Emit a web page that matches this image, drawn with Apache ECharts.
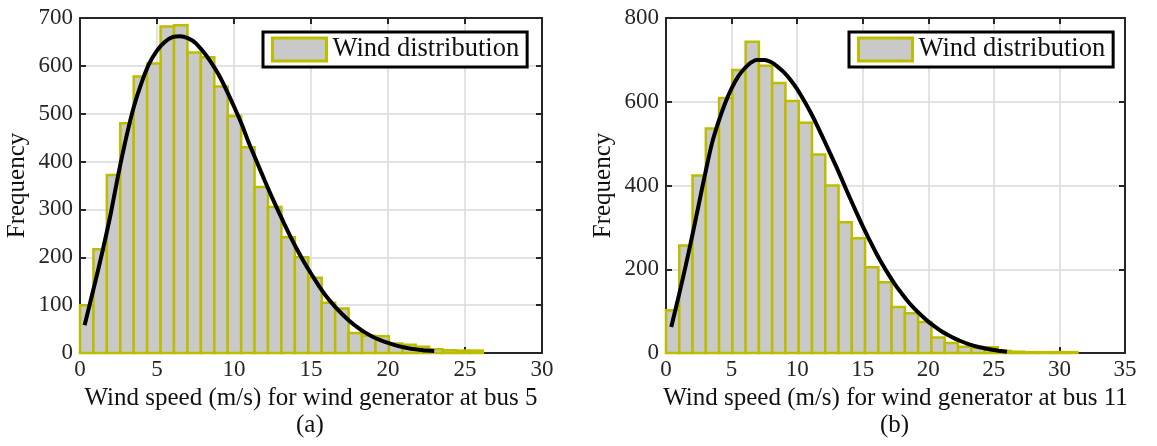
<!DOCTYPE html>
<html>
<head>
<meta charset="utf-8">
<script src="https://cdn.jsdelivr.net/npm/echarts@6/dist/echarts.min.js"></script>
<style>
  html, body { margin: 0; background: #fff; }
  #chart { width: 1157px; height: 446px; }
</style>
</head>
<body>
<div id="chart"></div>
<script>
// histogram counts, bus 5 (30 bins) and bus 11 (31 bins)
const bus5Start = 0;
const bus5Width = 0.872;
const bus5Counts = [100, 217, 372, 480, 578, 605, 682, 685, 628, 618, 557, 495, 430, 347, 305,
  242, 200, 157, 105, 93, 42, 36, 35, 20, 17, 13, 8, 6, 5, 5];

const bus11Start = 0;
const bus11Width = 1.012;
const bus11Counts = [102, 257, 424, 536, 609, 676, 743, 686, 645, 602, 550, 474, 400, 312, 274,
  205, 169, 110, 95, 74, 37, 24, 15, 12, 14, 5, 3, 2, 2, 2, 2];

// fitted distribution curves
const bus5FitX = [0.3, 1, 1.5, 2, 2.5, 3, 3.5, 4, 4.5, 5, 5.5, 6, 6.5, 7, 7.5, 8, 8.5, 9, 9.5, 10,
  10.5, 11, 11.5, 12, 12.5, 13, 13.5, 14, 14.5, 15, 15.5, 16, 16.5, 17, 17.5, 18, 18.5, 19, 19.5,
  20, 20.5, 21, 21.5, 22, 22.5, 23];
const bus5FitY = [58, 150, 218, 292, 375, 450, 515, 565, 605, 632, 650, 660, 662, 658, 648, 630,
  608, 582, 550, 515, 478, 436, 398, 360, 323, 288, 254, 222, 193, 166, 141, 118, 99, 82, 67, 54,
  43, 34, 27, 21, 16, 12, 9, 7, 5, 4];

const bus11FitX = [0.4, 1, 1.5, 2, 2.5, 3, 3.5, 4, 4.5, 5, 5.5, 6, 6.5, 7, 7.5, 8, 8.5, 9, 9.5, 10,
  10.5, 11, 11.5, 12, 12.5, 13, 13.5, 14, 14.5, 15, 15.5, 16, 16.5, 17, 17.5, 18, 18.5, 19, 19.5,
  20, 20.5, 21, 21.5, 22, 22.5, 23, 23.5, 24, 24.5, 25, 25.5, 26];
const bus11FitY = [62, 140, 208, 280, 355, 430, 500, 552, 596, 632, 660, 680, 694, 700, 700, 695,
  684, 670, 652, 630, 604, 576, 545, 512, 478, 444, 408, 372, 337, 303, 271, 240, 212, 186, 162,
  141, 121, 104, 89, 75, 63, 52, 43, 35, 28, 22, 17, 13, 10, 7, 5, 3];

const xTicksA = { min: 0, max: 30, interval: 5 };
const xTicksB = { min: 0, max: 35, interval: 5 };
const yTicksA = { min: 0, max: 700, interval: 100 };
const yTicksB = { min: 0, max: 800, interval: 200 };

const FONT = "'Liberation Serif', 'Times New Roman', serif";
const AXIS_COLOR = "#262626";
const BAR_FILL = "#c9c9c9";
const BAR_EDGE = "#bdbd00";

const toBins = (start, width, counts) =>
  counts.map((c, i) => [start + i * width, start + (i + 1) * width, c]);

const renderBin = (params, api) => {
  const topLeft = api.coord([api.value(0), api.value(2)]);
  const bottomRight = api.coord([api.value(1), 0]);
  return {
    type: "rect",
    shape: {
      x: topLeft[0],
      y: topLeft[1],
      width: bottomRight[0] - topLeft[0],
      height: bottomRight[1] - topLeft[1],
    },
    style: { fill: BAR_FILL, stroke: BAR_EDGE, lineWidth: 2.5 },
  };
};

const xAxisPair = (gridIndex, ticks, name) => [
  {
    gridIndex,
    type: "value",
    position: "bottom",
    ...ticks,
    name,
    nameLocation: "middle",
    nameGap: 30,
    nameTextStyle: { fontFamily: FONT, fontSize: 25, color: "#111" },
    axisLine: { onZero: false, lineStyle: { color: AXIS_COLOR, width: 2 } },
    axisTick: { inside: true, length: 6, lineStyle: { color: AXIS_COLOR, width: 2 } },
    axisLabel: { fontFamily: FONT, fontSize: 23, color: AXIS_COLOR, margin: 5 },
    splitLine: { show: true, lineStyle: { color: "#dadada", width: 1.5 } },
  },
  {
    gridIndex,
    type: "value",
    position: "top",
    ...ticks,
    axisLine: { onZero: false, lineStyle: { color: AXIS_COLOR, width: 2 } },
    axisTick: { inside: true, length: 6, lineStyle: { color: AXIS_COLOR, width: 2 } },
    axisLabel: { show: false },
    splitLine: { show: false },
  },
];

const yAxisPair = (gridIndex, ticks) => [
  {
    gridIndex,
    type: "value",
    position: "left",
    ...ticks,
    name: "Frequency",
    nameLocation: "middle",
    nameGap: 50,
    nameTextStyle: { fontFamily: FONT, fontSize: 25, color: "#111" },
    axisLine: { show: true, onZero: false, lineStyle: { color: AXIS_COLOR, width: 2 } },
    axisTick: { show: true, inside: true, length: 6, lineStyle: { color: AXIS_COLOR, width: 2 } },
    axisLabel: { fontFamily: FONT, fontSize: 23, color: AXIS_COLOR, margin: 7 },
    splitLine: { show: true, lineStyle: { color: "#dadada", width: 1.5 } },
  },
  {
    gridIndex,
    type: "value",
    position: "right",
    ...ticks,
    axisLine: { show: true, onZero: false, lineStyle: { color: AXIS_COLOR, width: 2 } },
    axisTick: { show: true, inside: true, length: 6, lineStyle: { color: AXIS_COLOR, width: 2 } },
    axisLabel: { show: false },
    splitLine: { show: false },
  },
];

const legendBox = (left) => ({
  left,
  top: 32,
  orient: "horizontal",
  backgroundColor: "#fff",
  borderColor: "#000",
  borderWidth: 3,
  borderRadius: 0,
  padding: [4, 8, 4, 8],
  itemWidth: 54,
  itemHeight: 23,
  itemGap: 0,
  selectedMode: false,
  textStyle: { fontFamily: FONT, fontSize: 26.5, color: "#111", padding: [0, 0, 0, 1] },
  data: [
    {
      name: "Wind distribution",
      icon: "rect",
      itemStyle: { color: BAR_FILL, borderColor: BAR_EDGE, borderWidth: 3 },
    },
  ],
});

const fitLine = (xs, ys, axisIdx) => ({
  name: "fit",
  type: "line",
  xAxisIndex: axisIdx,
  yAxisIndex: axisIdx,
  data: xs.map((x, i) => [x, ys[i]]),
  smooth: 0.3,
  showSymbol: false,
  lineStyle: { color: "#000", width: 4 },
  z: 5,
  silent: true,
});

const chart = echarts.init(document.getElementById("chart"), null, { renderer: "canvas" });

chart.setOption({
  animation: false,
  backgroundColor: "#fff",
  grid: [
    { left: 80, top: 18, width: 462, height: 335 },
    { left: 666, top: 18, width: 459, height: 335 },
  ],
  xAxis: [
    ...xAxisPair(0, xTicksA, "Wind speed (m/s) for wind generator at bus 5"),
    ...xAxisPair(1, xTicksB, "Wind speed (m/s) for wind generator at bus 11"),
  ],
  yAxis: [...yAxisPair(0, yTicksA), ...yAxisPair(1, yTicksB)],
  legend: [legendBox(263), legendBox(849)],
  series: [
    {
      name: "Wind distribution",
      type: "custom",
      xAxisIndex: 0,
      yAxisIndex: 0,
      renderItem: renderBin,
      encode: { x: [0, 1], y: 2 },
      data: toBins(bus5Start, bus5Width, bus5Counts),
      itemStyle: { color: BAR_FILL, borderColor: BAR_EDGE },
      z: 3,
    },
    fitLine(bus5FitX, bus5FitY, 0),
    {
      name: "Wind distribution",
      type: "custom",
      xAxisIndex: 2,
      yAxisIndex: 2,
      renderItem: renderBin,
      encode: { x: [0, 1], y: 2 },
      data: toBins(bus11Start, bus11Width, bus11Counts),
      itemStyle: { color: BAR_FILL, borderColor: BAR_EDGE },
      z: 3,
    },
    fitLine(bus11FitX, bus11FitY, 2),
  ],
  graphic: [
    {
      type: "text",
      left: 296,
      top: 413,
      style: { text: "(a)", font: `25px ${FONT}`, fill: "#111" },
    },
    {
      type: "text",
      left: 880,
      top: 413,
      style: { text: "(b)", font: `25px ${FONT}`, fill: "#111" },
    },
  ],
});
</script>
</body>
</html>
